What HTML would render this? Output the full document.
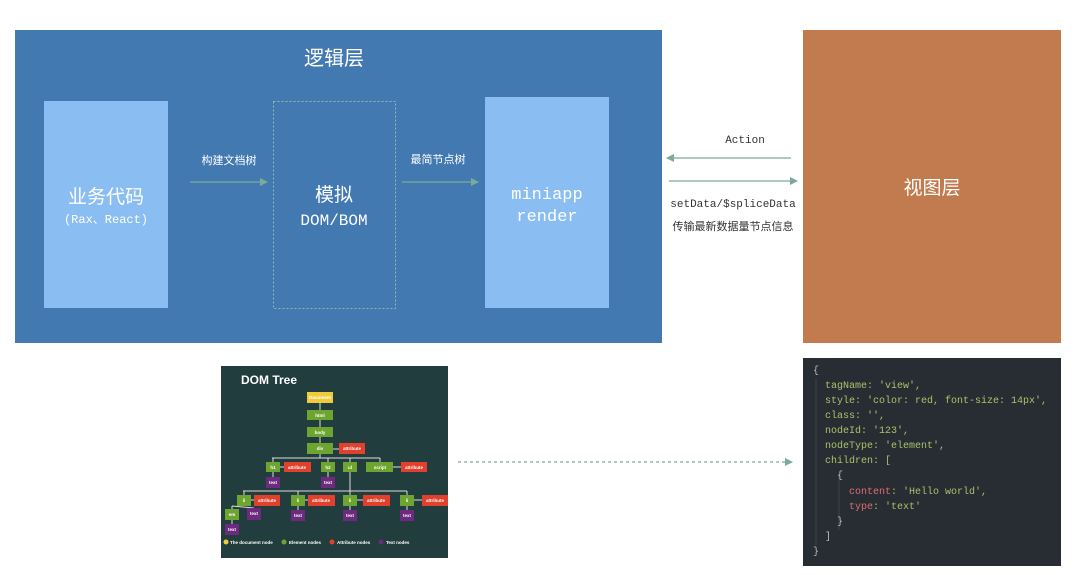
<!DOCTYPE html>
<html><head><meta charset="utf-8"><style>
html,body{margin:0;padding:0;background:#fff;width:1080px;height:575px;overflow:hidden}
</style></head><body>
<svg width="1080" height="575" xmlns="http://www.w3.org/2000/svg" font-family="'Liberation Sans','Noto Sans CJK SC',sans-serif">
<defs>
<marker id="ah" markerWidth="8" markerHeight="8" refX="7" refY="4" orient="auto" markerUnits="userSpaceOnUse"><path d="M0,0 L8,4 L0,8 z" fill="#7aaa9a"/></marker>
</defs>
<rect x="0" y="0" width="1080" height="575" fill="#fff"/>
<rect x="15" y="30" width="647" height="313" fill="#4279b1"/>
<text x="334" y="65" fill="#fff" font-size="20" text-anchor="middle">逻辑层</text>
<rect x="44" y="101" width="124" height="207" fill="#8abdf1"/>
<text x="106" y="203" fill="#fff" font-size="19" text-anchor="middle">业务代码</text>
<text x="106" y="223" fill="#fff" font-size="12" text-anchor="middle" font-family="'Liberation Mono','Noto Sans CJK SC',monospace">(Rax、React)</text>
<rect x="273.5" y="101.5" width="122" height="207" fill="none" stroke="#8fb8b0" stroke-dasharray="2,2"/>
<text x="334" y="201" fill="#fff" font-size="19" text-anchor="middle">模拟</text>
<text x="334" y="225" fill="#fff" font-size="16" text-anchor="middle" font-family="'Liberation Mono',monospace">DOM/BOM</text>
<rect x="485" y="97" width="124" height="211" fill="#8abdf1"/>
<text x="547" y="199" fill="#fff" font-size="17" text-anchor="middle" font-family="'Liberation Mono',monospace">miniapp</text>
<text x="547" y="221" fill="#fff" font-size="17" text-anchor="middle" font-family="'Liberation Mono',monospace">render</text>
<text x="229" y="164" fill="#fff" font-size="11" text-anchor="middle">构建文档树</text>
<line x1="190" y1="182" x2="267" y2="182" stroke="#7aaa9a" stroke-width="1.3" marker-end="url(#ah)"/>
<text x="438" y="163" fill="#fff" font-size="11" text-anchor="middle">最简节点树</text>
<line x1="402" y1="182" x2="478" y2="182" stroke="#7aaa9a" stroke-width="1.3" marker-end="url(#ah)"/>
<text x="745" y="143" fill="#333" font-size="11" text-anchor="middle" font-family="'Liberation Mono',monospace">Action</text>
<line x1="791" y1="158" x2="667" y2="158" stroke="#7aaa9a" stroke-width="1.3" marker-end="url(#ah)"/>
<line x1="669" y1="181" x2="797" y2="181" stroke="#7aaa9a" stroke-width="1.3" marker-end="url(#ah)"/>
<text x="733" y="207" fill="#333" font-size="11" text-anchor="middle" font-family="'Liberation Mono',monospace">setData/$spliceData</text>
<text x="733" y="230" fill="#333" font-size="11" text-anchor="middle">传输最新数据量节点信息</text>
<rect x="803" y="30" width="258" height="313" fill="#c17b4e"/>
<text x="932" y="194" fill="#fff" font-size="19" text-anchor="middle">视图层</text>
<line x1="458" y1="462" x2="792" y2="462" stroke="#7aaa9a" stroke-width="1.2" stroke-dasharray="3,3" marker-end="url(#ah)"/>
<!-- DOM tree -->
<rect x="221" y="366" width="227" height="192" fill="#213d3d"/>
<text x="241" y="384" fill="#fff" font-size="12" font-weight="bold">DOM Tree</text>
<g stroke="#ddd" stroke-width="1" fill="none">
<line x1="320" y1="403" x2="320" y2="443"/>
<line x1="333" y1="449" x2="339" y2="449"/>
<line x1="272" y1="458" x2="380" y2="458"/>
<line x1="320" y1="454" x2="320" y2="458"/>
<line x1="273" y1="458" x2="273" y2="477"/><line x1="328" y1="458" x2="328" y2="477"/>
<line x1="350" y1="458" x2="350" y2="491"/><line x1="380" y1="458" x2="380" y2="462"/>
<line x1="280" y1="467" x2="284" y2="467"/><line x1="393" y1="467" x2="401" y2="467"/>
<line x1="243" y1="491" x2="407" y2="491"/>
<line x1="244" y1="491" x2="244" y2="495"/><line x1="298" y1="491" x2="298" y2="510"/><line x1="350" y1="491" x2="350" y2="510"/><line x1="407" y1="491" x2="407" y2="510"/>
<line x1="251" y1="500" x2="254" y2="500"/><line x1="305" y1="500" x2="308" y2="500"/><line x1="357" y1="500" x2="363" y2="500"/><line x1="414" y1="500" x2="422" y2="500"/>
<line x1="232" y1="506" x2="254" y2="508"/><line x1="232" y1="506" x2="232" y2="524"/>
</g>
<g font-size="4.5" fill="#fff" text-anchor="middle" font-weight="bold">
<rect x="307" y="392" width="26" height="11" fill="#f0cc3c"/><text x="320" y="399">Document</text>
<rect x="307" y="410" width="26" height="10" fill="#6ea531"/><text x="320" y="417">html</text>
<rect x="307" y="427" width="26" height="10" fill="#6ea531"/><text x="320" y="434">body</text>
<rect x="307" y="443" width="26" height="11" fill="#6ea531"/><text x="320" y="450">div</text>
<rect x="339" y="443" width="26" height="11" fill="#e0402c"/><text x="352" y="450">attribute</text>
<rect x="266" y="462" width="14" height="10" fill="#6ea531"/><text x="273" y="469">h1</text>
<rect x="284" y="462" width="27" height="10" fill="#e0402c"/><text x="297" y="469">attribute</text>
<rect x="321" y="462" width="14" height="10" fill="#6ea531"/><text x="328" y="469">h2</text>
<rect x="343" y="462" width="14" height="10" fill="#6ea531"/><text x="350" y="469">ul</text>
<rect x="366" y="462" width="27" height="10" fill="#6ea531"/><text x="380" y="469">script</text>
<rect x="401" y="462" width="26" height="10" fill="#e0402c"/><text x="414" y="469">attribute</text>
<rect x="266" y="477" width="14" height="11" fill="#6d2a7e"/><text x="273" y="484">text</text>
<rect x="321" y="477" width="14" height="11" fill="#6d2a7e"/><text x="328" y="484">text</text>
<rect x="237" y="495" width="14" height="11" fill="#6ea531"/><text x="244" y="502">li</text>
<rect x="254" y="495" width="26" height="11" fill="#e0402c"/><text x="267" y="502">attribute</text>
<rect x="291" y="495" width="14" height="11" fill="#6ea531"/><text x="298" y="502">li</text>
<rect x="308" y="495" width="27" height="11" fill="#e0402c"/><text x="321" y="502">attribute</text>
<rect x="343" y="495" width="14" height="11" fill="#6ea531"/><text x="350" y="502">li</text>
<rect x="363" y="495" width="27" height="11" fill="#e0402c"/><text x="376" y="502">attribute</text>
<rect x="400" y="495" width="14" height="11" fill="#6ea531"/><text x="407" y="502">li</text>
<rect x="422" y="495" width="26" height="11" fill="#e0402c"/><text x="435" y="502">attribute</text>
<rect x="225" y="509" width="14" height="11" fill="#6ea531"/><text x="232" y="516">em</text>
<rect x="247" y="508" width="14" height="12" fill="#6d2a7e"/><text x="254" y="515">text</text>
<rect x="291" y="510" width="14" height="11" fill="#6d2a7e"/><text x="298" y="517">text</text>
<rect x="343" y="510" width="14" height="11" fill="#6d2a7e"/><text x="350" y="517">text</text>
<rect x="400" y="510" width="14" height="11" fill="#6d2a7e"/><text x="407" y="517">text</text>
<rect x="225" y="524" width="14" height="11" fill="#6d2a7e"/><text x="232" y="531">text</text>
</g>
<g font-size="4.5" fill="#fff" font-weight="bold">
<circle cx="226" cy="542" r="2.5" fill="#f0cc3c"/><text x="230" y="544">The document node</text>
<circle cx="284" cy="542" r="2.5" fill="#6ea531"/><text x="289" y="544">Element nodes</text>
<circle cx="332" cy="542" r="2.5" fill="#e0402c"/><text x="337" y="544">Attribute nodes</text>
<circle cx="381" cy="542" r="2.5" fill="#6d2a7e"/><text x="386" y="544">Text nodes</text>
</g>
<!-- code -->
<rect x="803" y="358" width="258" height="208" fill="#282c33"/>
<g stroke="#3e434b" stroke-width="1"><line x1="816" y1="378" x2="816" y2="545"/><line x1="839" y1="474" x2="839" y2="530"/></g>
<g font-family="'Liberation Mono',monospace" font-size="10" fill="#a5c46a">
<text x="813" y="373" fill="#bbb">{</text>
<text x="825" y="388">tagName: 'view',</text>
<text x="825" y="403">style: 'color: red, font-size: 14px',</text>
<text x="825" y="418">class: '',</text>
<text x="825" y="433">nodeId: '123',</text>
<text x="825" y="448">nodeType: 'element',</text>
<text x="825" y="463">children: [</text>
<text x="837" y="478" fill="#bbb">{</text>
<text x="849" y="494"><tspan fill="#e06c75">content</tspan>: 'Hello world',</text>
<text x="849" y="509"><tspan fill="#e06c75">type</tspan>: 'text'</text>
<text x="837" y="524" fill="#bbb">}</text>
<text x="825" y="539" fill="#bbb">]</text>
<text x="813" y="554" fill="#bbb">}</text>
</g>
</svg>
</body></html>
